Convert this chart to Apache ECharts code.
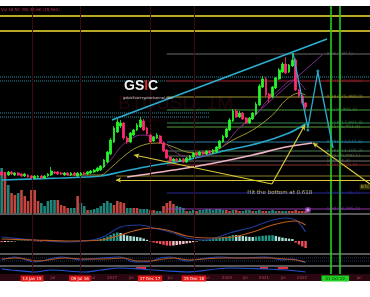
<!DOCTYPE html>
<html><head><meta charset="utf-8">
<script src="https://cdn.jsdelivr.net/npm/echarts@6/dist/echarts.min.js"></script>
<style>
html,body{margin:0;padding:0;background:#fff;}
#wrap{position:relative;width:370px;height:297px;background:#fff;overflow:hidden;}
.blk{position:absolute;left:0;width:370px;}
#c{position:absolute;left:0;top:0;width:370px;height:297px;}
</style></head>
<body><div id="wrap">
<div class="blk" style="top:6px;height:268px;background:#000"></div>
<div class="blk" style="top:213px;height:2px;background:#585858"></div>
<div class="blk" style="top:253px;height:2px;background:#585858"></div>
<div class="blk" style="top:265px;height:2px;background:#585858"></div>
<div class="blk" style="top:274px;height:7px;background:#2a0711"></div>
<div id="c"></div></div>
<script>
const N = 112;
// candles: [open, close, low, high]
const candles = [
[43,40,39,44],[42,40,39,43],[40,43,39,44],[43,41,40,44],[40,42,39,43],
[42,40,39,43],[41,39,38,42],[39,41,38,42],[40,38,37,41],[39,37,36,40],
[37,39,36,40],[38,39,37,40],[39,37,36,40],[37,39,36,40],[39,41,38,42],
[40,44,39,48],[43,42,41,44],[43,41,40,44],[42,41,40,43],[40,42,39,43],
[42,40,39,43],[40,42,39,43],[42,40,39,43],[39,42,38,43],[40,42,39,43],
[42,41,40,43],[41,43,40,44],[42,44,41,45],[43,45,42,46],[44,47,43,48],
[45,49,44,50],[48,55,47,56],[53,63,52,64],[61,75,60,77],[73,87,72,89],
[83,93,82,96],[89,92,87,95],[92,77,75,93],[77,73,71,79],[73,82,72,83],
[80,85,79,86],[85,90,84,92],[88,95,87,98],[94,85,84,96],[87,81,80,88],
[80,73,72,81],[74,78,73,79],[77,80,76,82],[79,72,71,80],[72,64,63,73],
[65,57,56,66],[58,54,53,59],[54,56,53,57],[56,54,53,57],[54,56,53,57],
[56,53,52,57],[53,57,52,58],[56,59,55,60],[58,62,57,63],[62,60,59,63],
[60,63,59,64],[63,61,60,64],[61,64,60,65],[64,62,61,65],[62,65,61,66],
[63,68,62,69],[67,74,66,75],[73,79,72,80],[78,86,77,87],[85,95,84,97],
[94,104,93,106],[104,98,97,106],[98,102,97,104],[102,96,95,103],[97,92,91,98],
[92,97,91,98],[96,102,95,103],[101,111,100,113],[110,129,109,131],[128,136,127,139],
[136,120,118,138],[121,117,112,122],[118,128,117,129],[127,137,126,138],[136,145,135,147],
[143,151,142,153],[151,142,141,158],[143,150,142,151],[149,155,148,162],[155,125,124,157],
[125,119,117,126],[119,112,110,120],[112,108,105,113]
];
const volume = [45,41,28,20,18,20,23,17,12,23, 23,12,10,7,12,13,13,13,8,7,
 5,5,5,17,10,7,3,3,4,5, 7,10,12,10,8,12,11,10,5,5, 5,5,4,4,4,3,3,2,2,7,
 10,12,9,7,6,5, 2,2,3,2,3,3,4,4,3,4, 4,3,3,2,3,3,2,2,3,3, 2,2,3,2,2,2,3,2,2,2, 2,2,2,3,2,2,2];
const volumeUp = [1,0,1,0,0,1,0,0,0,0, 0,0,1,1,1,1,1,0,0,0, 0,1,1,0,1,1,0,1,1,1,
 1,1,1,1,0,0,0,0,1,1, 0,0,1,1,1,0,0,1,1,0, 0,0,0,1,1,1,
 0,1,1,0,1,1,1,1,1,1, 1,1,0,0,1,0,0,1,1,1, 0,1,1,0,0,1,1,1,0,1, 1,0,0,0,0,0,0];
// moving averages [index, value]
const maCyan = [[0,35],[18,37],[30,39],[36,43],[45,49],[56,55],[66,63],[78,72],[87,82],[92,91]];
const maPink = [[38,38],[56,47],[66,53],[76,60],[86,68],[94,72]];
const maOlive = [[20,40],[30,40],[33,47],[36,56],[40,66],[44,71],[48,72],[52,68],[56,63],[60,62],[65,65],[70,75],[76,85],[82,100],[86,115],[90,122],[92,120]];
const maPurple = [[26,43],[30,46],[33,55],[36,68],[39,76],[42,80],[45,79],[48,76],[51,67],[54,60],[58,58],[62,60],[65,64],[68,72],[71,84],[74,93],[77,100],[80,113],[84,125],[88,135],[90,133],[92,125]];
// drawings
const trendUpper = [[33.4,95],[98.5,176]];
const zigzag = [[88.2,162],[92.7,87],[95.7,143],[100.3,67]];
const zigDots = [[95.7,144],[92.7,85]];
const purpleDiag = [[72.1,87],[97,160]];
const yellowArrows = [[[81.8,31],[40.1,60]],[[81.8,31],[91.8,90]],[[111.5,31],[94.2,72]],[[111.5,35],[34.6,35]]];
const yellowTop = [199,184];
const yellowLow = [39];
const cyanDotFull = [138];
const cyanDotLeft = [134,102,98];
// fib levels
const fibValues = [161,134,118,105,92,88,73,64,59,54,50,22,6];
const fibLabels = ['0(36,939.1)','0.236(30,150.6)','0.382(25,988.0)','0.5(20,905.6)','0.618(17,891.4)','0.65(16,951.4)','0.786(13,515.6)','0.886(11,105.3)','0.942(9,990.1)','1(8,854.3)','1.05(7,770.0)','1.236(5,446.1)','1.382(4,395.0)'];
const fibColors = ['#6a6a6a','#a3262c','#9c9630','#3f9a3f','#2f8a4a','#5a9a3a','#2a86a8','#4e7a5a','#6a7a50','#707070','#8a3030','#2a2a9c','#8e3ab0'];
const fibStart = 50;
// MACD
const macdHist = [-1.2,-1,-0.8,-0.6,-0.4,0.3,0.4,0.5,0.4,0.3,
 -0.3,-0.4,-0.3,0.2,0.3,0.5,0.4,0.3,0.2,-0.2,
 -0.3,-0.2,0.2,0.3,0.3,0.2,0.4,0.6,0.9,1.3,
 2,3,4.5,6,7.5,8.5,8,6.5,5.5,5,
 4.5,4,3.5,2.5,1.2,-0.8,-1.5,-2.2,-3,-3.8,
 -4.5,-4.8,-4.5,-4,-3.5,-3,-2.4,-1.8,-1.2,-0.6,
 0.5,1,1.3,1.6,2,2.5,3,3.6,4.2,5,
 6,5.8,5.5,5,4.5,4.2,4,4.4,4.8,5.2,
 5.5,5.7,5.8,5,4.2,3.4,2.8,2.4,2,-1.5,
 -3.5,-5.5,-7];
const macdLine = [[0,4],[10,1],[20,-1],[30,3],[36,14],[42,16],[46,13],[52,8],[56,3],[62,1],[69,8],[76,14],[82,21],[86,23],[89,21],[91,14],[92,9]];
const signalLine = [[0,2],[10,1],[20,0],[30,1],[36,6],[40,10],[45,13],[50,11],[56,5],[62,3],[70,4],[76,9],[82,16],[86,19],[89,20],[92,16]];
// oscillator panels
const osc1 = [[0,5],[4,8],[10,3],[18,8],[24,5],[30,7],[36,8],[40,3],[44,3],[48,7],[51,8],[56,4],[60,6],[66,8],[72,7],[80,8],[85,5],[88,6],[92,2]];
const osc2 = [[0,6],[5,7],[11,4],[19,7],[25,6],[31,6],[37,7],[41,4],[45,4],[49,6],[52,7],[57,5],[61,6],[67,7],[73,7],[81,7],[86,6],[89,5],[92,3]];
const oscLevels = [7,4];
const osc3 = [[0,5],[3,4],[10,2],[15,4],[25,2],[30,4],[36,6],[42,5],[50,3],[56,2],[69,6],[80,5],[86,4],[92,2]];
const osc3Boxes = [[40.7,43.7],[78.2,80.6],[83.6,86.7]];
// vertical markers & time labels
const redVLines = [9.2,23.7,44.9,58.2];
const greenVLines = [99.7,102.4];
const tickPos = [15.5,27.6,33.4,39.2,51,62.2,68.2,73.7,79.4,85.2,90.9,108.2];
const tickText = ['Jul','Jul','2017','Jul','Jul','Jul','2020','Jul','2021','Jul','2022','Jul'];
const eventPos = [9.2,23.7,44.9,58.2,101];
const eventText = ['14 Jan 15','09 Jul 16','17 Dec 17','15 Dec 18','01 Oct 22'];

const cats = Array.from({length:N},(_, i)=>String(i));
const hid = {show:false};
function vx(grid, extra){return Object.assign({type:'value',gridIndex:grid,min:-0.5,max:N-0.5,show:false},extra||{});}
function line(data, color, width, xi, yi, opts){
  return Object.assign({type:'line',xAxisIndex:xi,yAxisIndex:yi,data:data,symbol:'none',smooth:0.3,
    lineStyle:{color:color,width:width},silent:true,animation:false,z:3},opts||{});
}
const series = [];
series.push({type:'line',xAxisIndex:6,yAxisIndex:5,data:[],silent:true,z:1,
  markLine:{symbol:'none',animation:false,label:{show:false},
   data: redVLines.map(v=>({xAxis:v,lineStyle:{color:'#3e0a0f',width:1,type:'solid'}}))
     .concat(greenVLines.map(v=>({xAxis:v,lineStyle:{color:'#1fd21f',width:1.6,type:'solid'}})))}});
yellowTop.forEach(v=>series.push(line([[-0.5,v],[N-0.5,v]],'#b8a828',2.2,1,0,{smooth:false,z:2})));
cyanDotFull.forEach(v=>series.push(line([[-0.5,v],[N-0.5,v]],'#2a8ca0',1,1,0,{smooth:false,z:2,lineStyle:{color:'#2a8ca0',width:1,type:[1,1]}})));
cyanDotLeft.forEach(v=>series.push(line([[-0.5,v],[v>120?fibStart:63,v]],'#2a8ca0',1,1,0,{smooth:false,z:2,lineStyle:{color:'#2a8ca0',width:1,type:[1,1]}})));
fibValues.forEach((v,k)=>series.push(line([[fibStart,v],[N-0.5,v]],fibColors[k],1,1,0,{smooth:false,z:2})));
yellowLow.forEach(v=>series.push(line([[34.6,v],[N-0.5,v]],'#8a8020',1.2,1,0,{smooth:false,z:2})));
series.push({type:'scatter',xAxisIndex:1,yAxisIndex:0,symbolSize:0,silent:true,z:6,
  data:fibValues.map((v,k)=>({value:[98.3,v],label:{show:true,position:'right',distance:0,formatter:fibLabels[k],color:fibColors[k],fontSize:4.5,fontFamily:'DejaVu Sans'}}))});
series.push({type:'bar',xAxisIndex:0,yAxisIndex:1,barWidth:2.6,silent:true,z:2,
  data:volume.map((v,i)=>({value:v,itemStyle:{color:volumeUp[i]?'#1f857b':'#c0463f'}}))});
series.push(line(maCyan,'#26a9cc',1.6,1,0));
series.push(line(maPink,'#efb4c6',1.6,1,0));
series.push(line(maOlive,'#a09530',1,1,0));
series.push(line(maPurple,'#7a2d7d',1,1,0));
series.push({type:'candlestick',xAxisIndex:0,yAxisIndex:0,data:candles,barWidth:2.3,silent:true,z:5,
  itemStyle:{color:'#25f52a',color0:'#ff2a6e',borderColor:'#25f52a',borderColor0:'#ff2a6e',borderWidth:0.8}});
series.push(line(trendUpper,'#2ab0d0',1.5,1,0,{smooth:false,z:6}));
series.push(line(zigzag,'#2aaed0',1.3,1,0,{smooth:false,z:6}));
series.push(line(purpleDiag,'#7b2f8e',1,1,0,{smooth:false,z:4}));
series.push({type:'scatter',xAxisIndex:1,yAxisIndex:0,data:zigDots,symbolSize:3,itemStyle:{color:'#2aaed0'},silent:true,z:7});
series.push({type:'line',xAxisIndex:1,yAxisIndex:0,data:[],silent:true,z:7,
  markLine:{symbol:['none','arrow'],symbolSize:[4,5],animation:false,silent:true,label:{show:false},
   lineStyle:{color:'#d8c83a',width:1.2,type:'solid'},
   data:yellowArrows.map(a=>[{coord:a[0]},{coord:a[1]}])}});
series.push({type:'scatter',xAxisIndex:1,yAxisIndex:0,symbolSize:0,silent:true,z:8,
  data:[{value:[84.2,22],label:{show:true,position:'inside',formatter:'Hit the bottom at 0.618',color:'#e8dc8a',fontSize:5.5,fontFamily:'DejaVu Sans'}},
        {value:[110,28],label:{show:true,position:'inside',formatter:'BTC',color:'#d8d040',fontSize:4.5,fontFamily:'DejaVu Sans',backgroundColor:'#3a3808',padding:[0,1]}}]});
series.push({type:'scatter',xAxisIndex:1,yAxisIndex:0,data:[[92.7,5]],symbol:'emptyCircle',symbolSize:4,itemStyle:{color:'#9a40c0'},silent:true,z:7});
series.push({type:'bar',xAxisIndex:2,yAxisIndex:2,barWidth:2.4,silent:true,z:2,
  data:macdHist.map((h,i)=>{const p=i?macdHist[i-1]:h;const c=h>=0?(h>=p?'#1f9a8c':'#a9dcd5'):(h<=p?'#f0505a':'#f6c4cb');return {value:h,itemStyle:{color:c}};})});
series.push(line(macdLine,'#1e3a9a',1.2,3,2));
series.push(line(signalLine,'#b85a1c',1.2,3,2));
oscLevels.forEach(v=>series.push(line([[-0.5,v],[N-0.5,v]],'#2a3a5a',1,4,3,{smooth:false,z:2,lineStyle:{color:'#2a3a5a',width:1,type:[1,1]}})));
series.push(line(osc1,'#2448c0',1,4,3));
series.push(line(osc2,'#b4581e',1,4,3));
series.push(line(osc3,'#2450d0',1.2,5,4,{markArea:{silent:true,itemStyle:{color:'#e0303e'},data:osc3Boxes.map(b=>[{xAxis:b[0],yAxis:5},{xAxis:b[1],yAxis:7}])}}));

const option = {
  animation:false,
  backgroundColor:'transparent',
  grid:[
    {left:0,right:0,top:6,height:207},
    {left:0,right:0,top:215,height:38},
    {left:0,right:0,top:255,height:10},
    {left:0,right:0,top:267,height:7},
    {left:0,right:0,top:6,height:268}
  ],
  xAxis:[
    {type:'category',gridIndex:0,data:cats,show:false},
    vx(0),
    {type:'category',gridIndex:1,data:cats,show:false},
    vx(1), vx(2),
    vx(3,{show:true,axisLine:hid,axisTick:hid,splitLine:hid,
      axisLabel:{show:true,customValues:tickPos.concat(eventPos),margin:1.5,fontSize:4,color:'#b04a58',fontFamily:'DejaVu Sans',
        formatter:function(v){
          for(let k=0;k<eventPos.length;k++){ if(Math.abs(v-eventPos[k])<0.01) return '{'+(k===eventPos.length-1?'g':'r')+'|'+eventText[k]+'}'; }
          for(let k=0;k<tickPos.length;k++){ if(Math.abs(v-tickPos[k])<0.01) return tickText[k]; }
          return '';
        },
        rich:{r:{backgroundColor:'#e01818',color:'#fff',fontSize:4,padding:[1,2],fontFamily:'DejaVu Sans'},
              g:{backgroundColor:'#22d022',color:'#0a3a0a',fontSize:4,padding:[1,4],fontFamily:'DejaVu Sans'}}}}),
    vx(4)
  ],
  yAxis:[
    {type:'value',gridIndex:0,min:2,max:209,show:false},
    {type:'value',gridIndex:0,min:0,max:207,show:false},
    {type:'value',gridIndex:1,min:-12,max:26,show:false},
    {type:'value',gridIndex:2,min:0,max:10,show:false},
    {type:'value',gridIndex:3,min:0,max:7,show:false},
    {type:'value',gridIndex:4,min:0,max:1,show:false}
  ],
  graphic:[
    {type:'text',left:118,top:94,z:0,silent:true,style:{text:'BTCUSD, 1M',fontSize:19,fontFamily:'Liberation Sans',fill:'rgba(120,22,34,0.25)'}},
    {type:'text',left:140,top:117,z:0,silent:true,style:{text:'Bitcoin / U.S. Dollar',fontSize:7,fontFamily:'Liberation Sans',fill:'rgba(120,22,34,0.25)'}},
    {type:'text',left:124,top:79,z:10,silent:true,style:{rich:{w:{fill:'#f2f2f2',fontSize:14,fontWeight:'bold',fontFamily:'Liberation Sans'},r:{fill:'#e02a2a',fontSize:14,fontWeight:'bold',fontFamily:'Liberation Sans'}},text:'{w|GS}{r|I}{w|C}'}},
    {type:'text',left:123,top:96,z:10,silent:true,style:{text:'goldsilvercryptochannel.com',fontSize:3.5,fontFamily:'DejaVu Sans',fill:'#d8d8d8'}},
    {type:'text',left:1,top:8,z:10,silent:true,style:{text:'Vol 46.5K  MA 44.6K (45,560)',fontSize:4,fontFamily:'DejaVu Sans',fill:'#b8285a'}}
  ],
  series:series
};
const chart = echarts.init(document.getElementById('c'),null,{renderer:'canvas'});
chart.setOption(option);
</script></body></html>
